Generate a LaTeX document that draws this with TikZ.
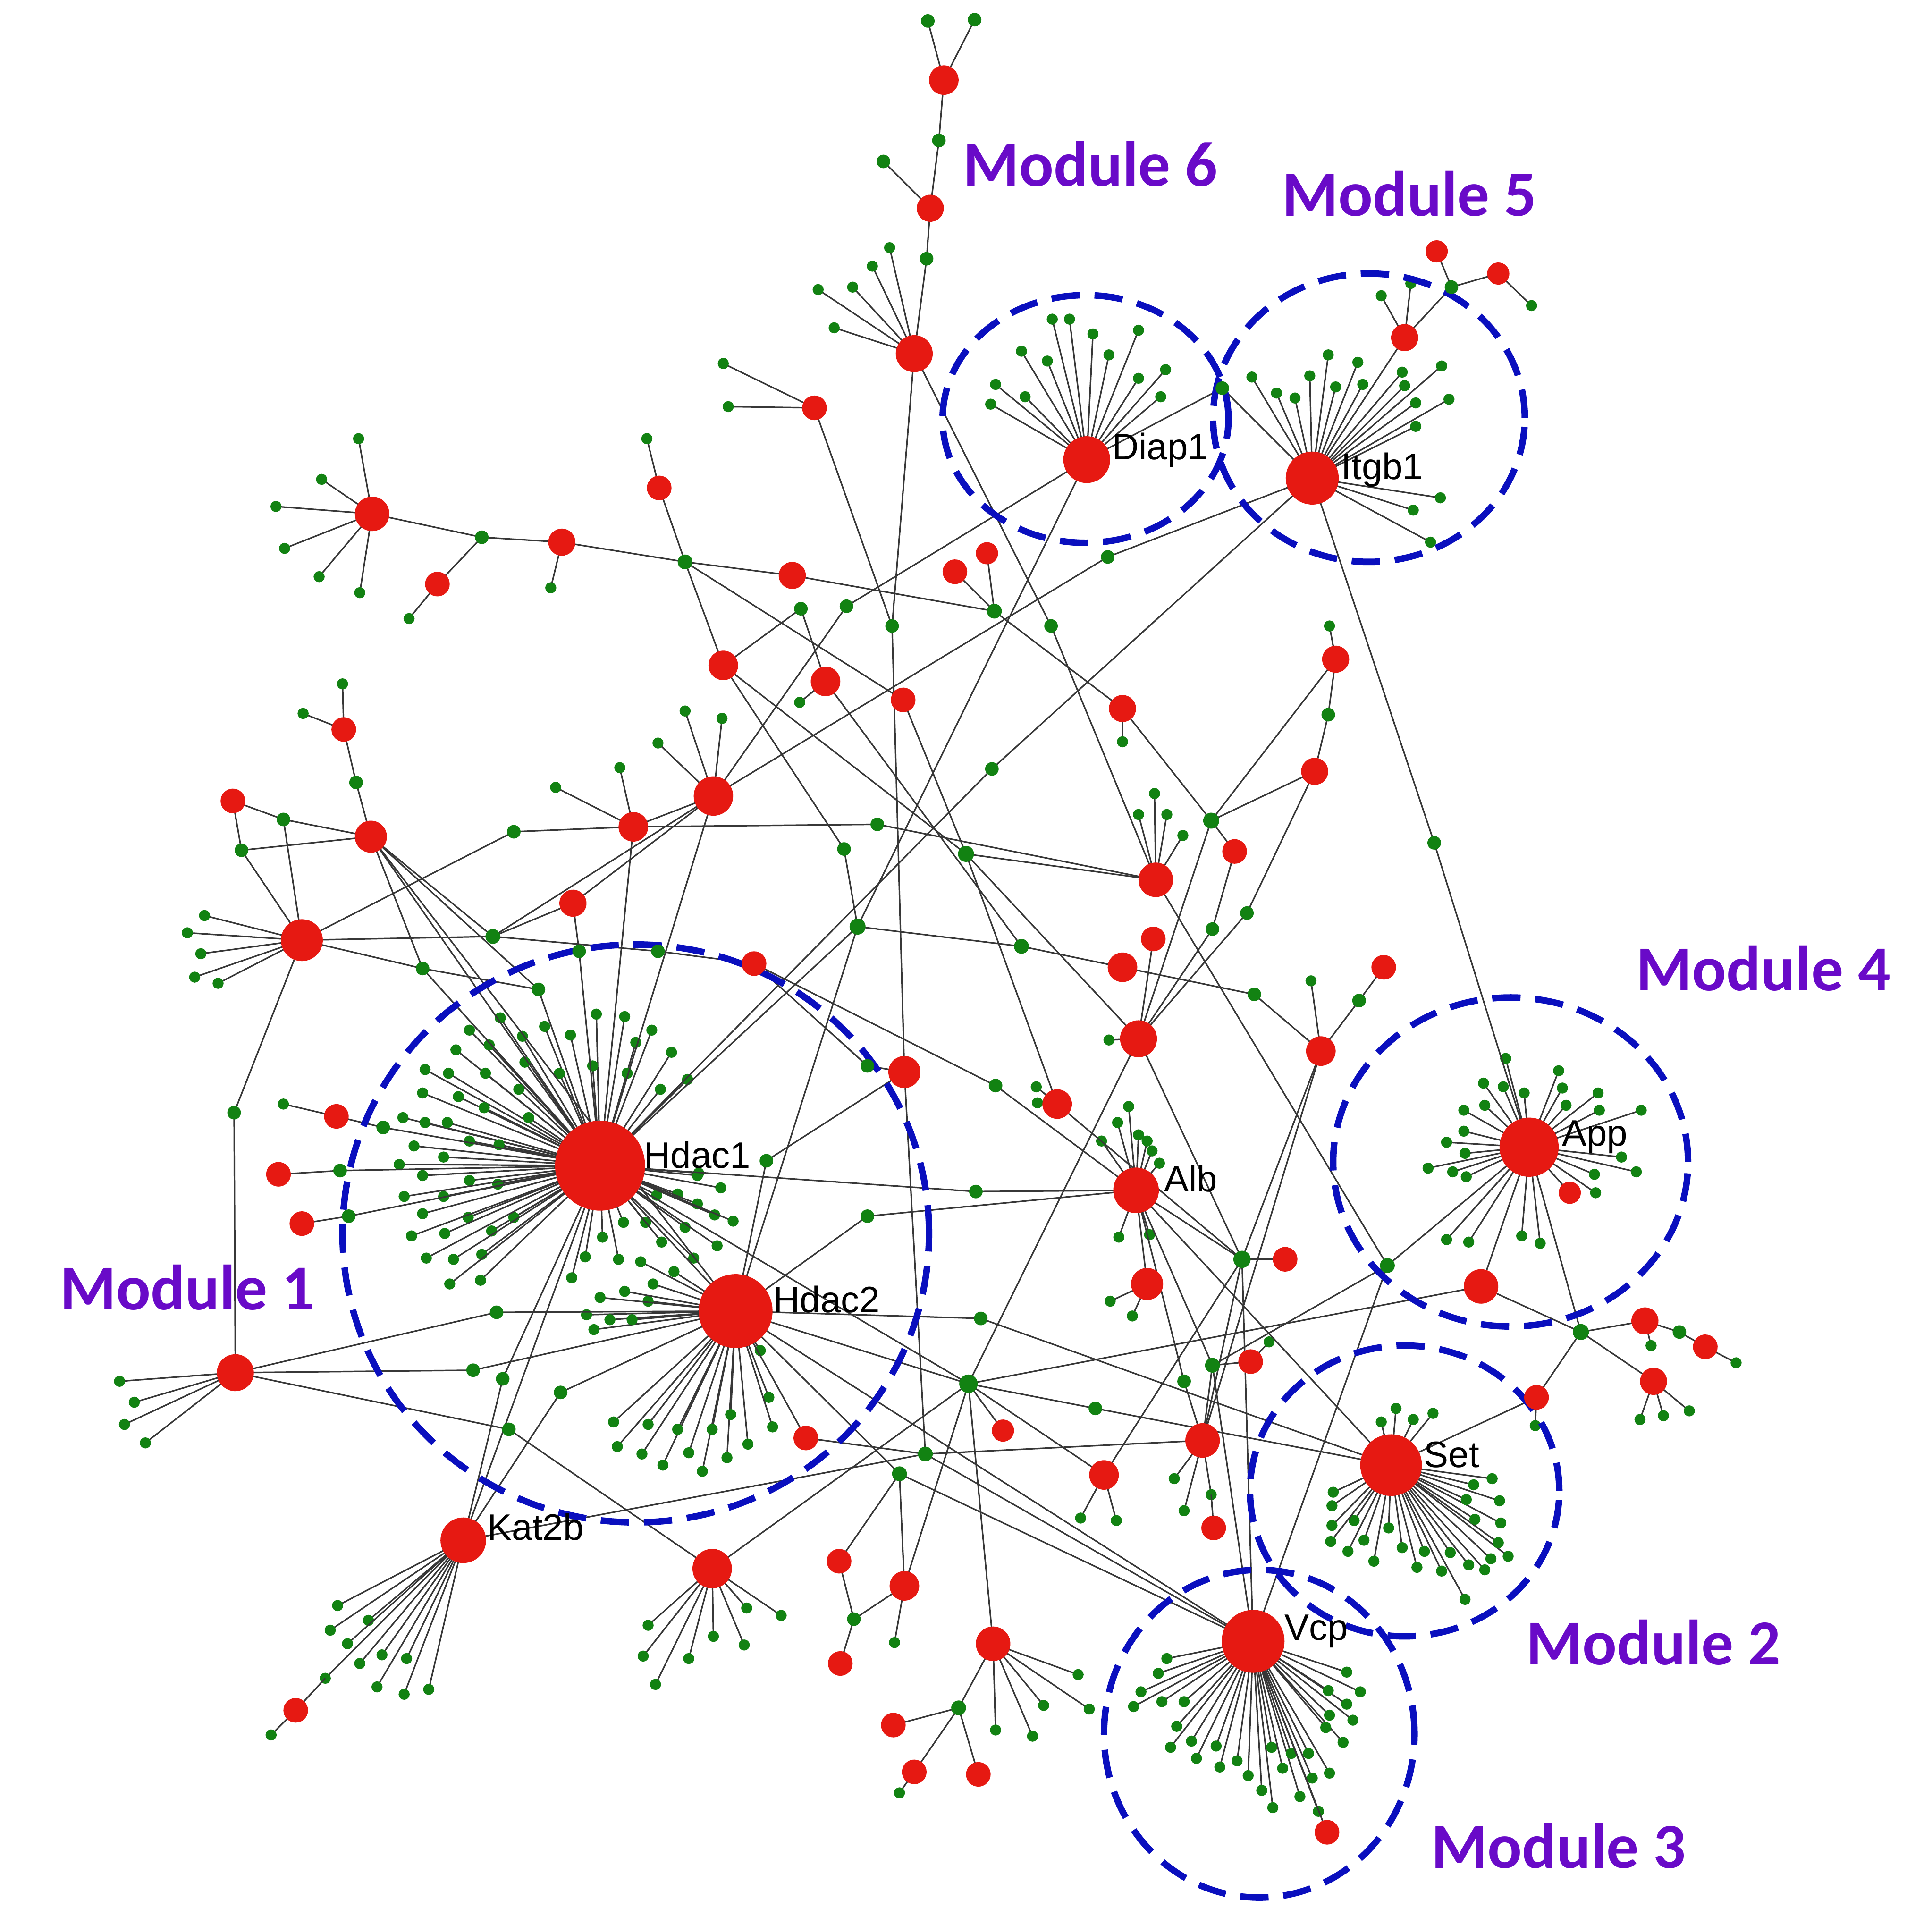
\documentclass[tikz,border=0pt]{standalone}
\usepackage{fontspec}
\newfontfamily\modfont{Carlito}
\newfontfamily\genefont{Liberation Sans}
\definecolor{nodered}{RGB}{230,25,18}
\definecolor{leafgreen}{RGB}{18,130,18}
\definecolor{edgegray}{RGB}{55,55,55}
\definecolor{modblue}{RGB}{10,15,190}
\definecolor{modpurple}{RGB}{105,10,200}

% proteins: name/x/y/diameter(mm)
\def\protlist{hdacA/487/946/7.3, hdacB/597/1064/6.0, katB/376/1250/3.7, diap/882/373/3.8,
	itgb/1065/388/4.3, app/1241/931/4.8, setg/1129/1189/5.0, vcp/1017/1332/5.1, alb/922/966/3.7,
	rA/766/65/2.4, rB/755/169/2.2, rC/742/287/3.0, rD/661/331/2.0, rE/302/417/2.8, rF/456/440/2.2,
	rG/355/474/2.0, rH/535/396/2.0, rI/643/467/2.2, rJ/775/464/2.0, rK/801/449/1.8, rL/587/540/2.4,
	rM/670/553/2.4, rN/733/568/2.0, rO/911/575/2.2, rP/579/646/3.2, rQ/514/671/2.4, rR/1084/535/2.2,
	rS/1067/626/2.2, rT/1002/691/2.0, rU/938/714/2.8, rV/936/762/2.0, rW/911/785/2.4, rX/1123/785/2.0,
	rY/1072/853/2.4, rZ/924/843/3.0, sA/858/896/2.4, sB/734/870/2.6, sC/612/782/2.0, sD/465/733/2.2,
	sE/279/592/2.0, sF/189/650/2.0, sG/301/679/2.6, sH/245/763/3.4, sI/273/906/2.0, sJ/226/953/2.0,
	sK/245/993/2.0, sL/191/1114/3.0, sM/240/1388/2.0, sN/578/1273/3.2, sO/654/1167/2.0, sP/681/1267/2.0,
	sQ/734/1287/2.4, sR/682/1350/2.0, sS/725/1400/2.0, sT/742/1438/2.0, sU/794/1440/2.0, sV/806/1334/2.8,
	sW/814/1161/1.8, sX/896/1197/2.4, sY/976/1169/2.8, sZ/985/1240/2.0, tA/1015/1105/2.0, tB/1043/1022/2.0,
	tC/931/1042/2.6, tD/1202/1044/2.8, tE/1274/968/1.8, tF/1247/1134/2.0, tG/1335/1072/2.2, tH/1384/1093/2.0,
	tI/1342/1121/2.2, tJ/1077/1487/2.0, tK/1166/204/1.8, tL/1216/222/1.8, tM/1140/274/2.2}

% connectors: name/x/y/diameter(mm)
\def\connlist{gT1/753/17/1.1, gT2/791/16/1.1, gT3/762/114/1.1, gT4/717/131/1.1, gT5/752/210/1.1,
	gL1/391/436/1.1, gL2/556/456/1.2, gC1/650/494/1.1, gC2/784/693/1.3, gC3/685/689/1.1, gC4/696/752/1.3,
	gC5/807/496/1.2, gC6/983/666/1.3, gC7/687/492/1.1, gC8/724/508/1.1, gC9/853/508/1.1, gC10/899/452/1.1,
	gC11/805/624/1.1, gC12/712/669/1.1, gC13/829/768/1.2, g992/992/315/1.1, g1178/1178/233/1.1,
	g1164/1164/684/1.1, g1078/1078/580/1.1, g984/984/754/1.1, g1012/1012/741/1.1, g1018/1018/807/1.1,
	g1103/1103/812/1.1, g808/808/881/1.1, g792/792/967/1.1, g704a/704/865/1.1, g704b/704/987/1.1,
	g622/622/942/1.1, gA1/1008/1022/1.4, gA2/1126/1027/1.2, g983/984/1108/1.2, g960/961/1121/1.1,
	g796/796/1070/1.1, gBig/786/1123/1.5, g888/889/1143/1.1, g751/751/1180/1.2, g730/730/1196/1.2,
	g693/693/1314/1.1, g778/778/1386/1.2, g1283/1283/1081/1.3, g1363/1363/1081/1.1, g289/289/635/1.1,
	g230/230/665/1.1, g196/196/690/1.1, g400/400/760/1.2, g534/534/772/1.1, g417/417/675/1.1,
	g343/343/786/1.1, g470/470/772/1.1, g435/437/803/1.1, g190/190/903/1.1, g311/311/915/1.1,
	g276/276/950/1.1, g283/283/987/1.1, g403/403/1065/1.1, g384/384/1112/1.1, g413/413/1160/1.1,
	g455/455/1130/1.1, g408/408/1119/1.1}

\begin{document}
\begin{tikzpicture}[x=0.1mm,y=-0.1mm]
		\tikzset{prot/.style = {circle,fill=nodered,inner sep=0pt,minimum size=#1}}
		\tikzset{leaf/.style = {circle,fill=leafgreen,inner sep=0pt,minimum size=0.9mm}}
		\tikzset{conn/.style = {circle,fill=leafgreen,inner sep=0pt,minimum size=#1}}
		\tikzset{edge/.style = {draw=edgegray,line width=0.35pt}}
		\tikzset{module/.style = {draw=modblue,line width=1.5pt,dash pattern=on 2.3mm off 1.2mm}}
		\tikzset{modlabel/.style = {text=modpurple,inner sep=0pt,font=\modfont\bfseries\fontsize{14.8}{17}\selectfont}}
		\tikzset{genelabel/.style = {anchor=base west,inner sep=0pt,font=\genefont\fontsize{8.5}{10}\selectfont}}
		\useasboundingbox (0,0) rectangle (1568,1562);
		
		% positions
		\foreach \n/\x/\y/\s in \protlist {\coordinate (\n) at (\x,\y);}
		\foreach \n/\x/\y/\s in \connlist {\coordinate (\n) at (\x,\y);}
		
		% fans of leaves
		\foreach \h/\p/\list in {
			hdacA/hA/{406/826,381/836,397/848,424/841,442/833,463/840,484/823,507/825,529/836,516/846,545/854,370/852,426/862,454/871,481/865,509/871,536/884,558/876,345/868,364/871,394/871,421/884,343/887,372/890,393/899,429/907,327/907,345/911,363/911,381/926,405/929,336/930,360/939,324/945,343/954,381/958,404/961,328/971,360/971,380/988,343/985,334/1003,361/1001,399/999,417/988,346/1021,368/1022,391/1018,365/1042,390/1039,506/992,524/992,533/970,550/969,566/977,580/986,595/991,585/964,566/954,537/1008,556/996,563/1021,582/1011,464/1037,475/1020,489/1004,502/1022,567/952},
			hdacB/hB/{476/1067,482/1079,495/1071,513/1071,526/1056,530/1042,520/1024,547/1032,507/1048,487/1053,498/1154,501/1174,521/1180,526/1156,538/1189,550/1160,559/1179,570/1194,578/1160,590/1183,593/1148,607/1172,624/1134,627/1158,617/1096},
			diap/dL/{854/259,868/259,887/271,924/268,829/285,850/293,900/288,946/300,924/307,808/312,832/322,942/322,804/328},
			itgb/iL/{1016/306,1036/319,1051/323,1063/305,1078/288,1084/314,1102/294,1106/312,1138/302,1140/313,1170/297,1149/327,1176/324,1149/346,1169/404,1147/414,1161/440},
			app/aL/{1222/859,1265/869,1204/879,1220/882,1237/887,1268/883,1297/887,1188/901,1205/897,1271/897,1298/901,1332/901,1174/927,1188/918,1189/936,1159/948,1179/951,1190/955,1316/939,1328/951,1294/953,1295/968,1174/1006,1192/1008,1235/1003,1250/1009},
			setg/eL/{1121/1154,1133/1143,1147/1152,1163/1147,1082/1211,1081/1222,1099/1234,1081/1238,1107/1250,1080/1251,1094/1259,1115/1267,1127/1240,1138/1256,1150/1272,1156/1259,1170/1275,1177/1260,1189/1298,1192/1270,1205/1274,1210/1265,1224/1263,1216/1252,1218/1236,1197/1233,1196/1205,1211/1200,1217/1218,1190/1217},
			vcp/vL/{947/1346,940/1358,926/1373,920/1385,943/1381,961/1381,955/1401,967/1413,950/1418,971/1427,987/1417,990/1434,1004/1429,1013/1441,1024/1453,1033/1467,1032/1418,1041/1435,1055/1458,1048/1423,1065/1443,1079/1439,1062/1423,1090/1414,1076/1402,1098/1396,1079/1392,1093/1383,1078/1372,1104/1373,1093/1357,1070/1470},
			alb/bL/{916/898,907/911,894/926,924/921,931/926,935/934,941/944,908/1004,933/1002},
			katB/kL/{274/1303,268/1323,299/1315,282/1334,310/1343,292/1350,330/1346,264/1362,306/1369,328/1375,348/1371},
			sN/nL/{526/1319,522/1344,532/1367,559/1346,579/1328,604/1335,606/1305,634/1311},
			sV/wL/{875/1359,847/1384,884/1387,838/1409,808/1404},
			sL/mL/{97/1121,109/1138,101/1156,118/1171},
			sH/hL/{166/743,152/757,163/774,158/793,177/798},
			rE/eE/{291/356,261/389,224/411,231/445,259/468,292/481},
			rC/cL/{722/201,708/216,692/233,664/235,677/266},
			rU/uL/{937/644,924/661,947/661,960/678},
			rP/pL/{556/577,586/583,534/603},
			tI/jL/{1331/1152,1350/1149,1371/1145},
			sY/yL/{953/1200,961/1226,983/1213},
			rD/dD/{587/295,591/330},
			rQ/qL/{503/623,451/639},
			sA/aA/{841/882,842/895},
			sE/sEl/{278/555,246/579},
			sX/xL/{877/1232,906/1234},
			tC/tCl/{901/1056,919/1068},
			tM/tMl/{1121/240,1145/230},
			rF/fL/{447/477}, rG/gLf/{332/502}, rH/hHl/{525/356}, rM/mM/{649/570},
			rO/oL/{911/602}, rR/rRl/{1079/508}, rY/yY/{1064/796}, rZ/zL/{900/844},
			sI/iI/{230/896}, sQ/qQ/{726/1333}, sT/tT/{730/1455}, tA/aAl/{1030/1089},
			tF/fF/{1246/1157}, tG/gG/{1340/1092}, tH/hH/{1409/1106}, tL/lL/{1243/248},
			sM/sMl/{220/1408}}
		{
			\foreach \x/\y [count=\i] in \list {
				\coordinate (\p-\i) at (\x,\y);
				\draw[edge] (\h) -- (\p-\i);
				\node[leaf] (\p-\i-dot) at (\p-\i) {};
			}
		}
		
		% edges
		\foreach \a/\b in {rA/gT1,rA/gT2,rA/gT3,gT3/rB,gT4/rB,rB/gT5,gT5/rC,rC/gC8,rC/gC9,rD/gC8,gC8/sB,gC9/rU,
			rE/gL1,gL1/rF,gL1/rG,rF/gL2,rH/gL2,gL2/rI,rI/gC5,gL2/rL,gL2/rN,rJ/gC5,rK/gC5,gC5/rO,rO/gC6,
			rL/gC1,gC1/rM,rL/gC2,rL/gC3,rN/gC2,diap/gC7,gC7/rP,diap/gC4,diap/g992,g992/itgb,
			itgb/gC10,gC10/rP,itgb/gC11,gC11/hdacA,itgb/g1164,g1164/app,itgb/tM,tM/g1178,g1178/tK,g1178/tL,
			gC2/rU,gC2/rZ,gC2/sA,gC3/gC4,gC4/gC13,gC13/rW,gC4/hdacB,gC4/hdacA,rM/gC13,
			rQ/gC12,gC12/rU,rQ/rP,rQ/hdacA,sH/g417,g417/rQ,rP/hdacA,rP/g400,
			rR/g1078,g1078/rS,rR/gC6,rS/gC6,gC6/rT,gC6/rZ,rT/g984,g984/rZ,rS/g1012,g1012/rZ,rV/rZ,
			rU/gA2,rW/g1018,g1018/rY,rX/g1103,g1103/rY,rY/gA1,rY/sY,sA/gA1,
			sC/g808,g808/alb,hdacA/g792,g792/alb,hdacB/g704b,g704b/alb,
			alb/tC,alb/gA1,alb/setg,alb/g983,alb/g960,
			sC/g704a,g704a/sB,hdacB/g622,g622/sB,sB/g751,
			g751/katB,g751/sO,g751/sY,g751/vcp,
			g730/hdacB,g730/vcp,g730/sP,g730/sQ,
			gBig/hdacB,gBig/hdacA,gBig/g888,g888/setg,gBig/tD,gBig/rZ,gBig/sV,gBig/sW,gBig/sX,gBig/sN,gBig/sQ,
			hdacB/g796,g796/setg,sX/gA1,gA1/vcp,gA1/sY,rZ/gA1,gA1/tB,
			g983/tA,g983/gA2,g983/vcp,g983/sY,g960/sY,gA2/app,gA2/vcp,
			app/tD,tD/g1283,app/g1283,g1283/tG,tG/g1363,g1363/tH,g1283/tI,g1283/tF,tF/setg,app/tE,
			vcp/hdacB,vcp/tJ,
			sL/g190,g190/sH,sL/g403,g403/hdacB,sL/g384,g384/hdacB,sL/g413,g413/sN,
			katB/hdacA,katB/g455,g455/hdacB,katB/g408,g408/hdacA,kL-8/sM,
			sO/hdacB,sP/g693,g693/sR,g693/sQ,
			sV/g778,g778/sS,g778/sT,g778/sU,
			sE/g289,g289/sG,sF/g230,g230/sG,sF/g196,g196/sG,g230/sH,g196/sH,
			sH/g400,g400/g534,g534/sC,sH/g343,sG/g343,g343/hdacA,g343/g435,
			sG/g400,sG/hdacA,sG/hdacB,sG/g435,g435/hdacA,
			sD/g470,g470/hdacA,sD/g400,sD/rP,
			hdacA/g311,g311/sI,hdacA/g276,g276/sJ,hdacA/g283,g283/sK,
			hdacA/hdacB,yL-3/sZ}
			\draw[edge] (\a) -- (\b);
		
		% modules
		\draw[module] (516,1001) ellipse [x radius=23.8mm, y radius=23.45mm];
		\draw[module] (881,340) ellipse [x radius=11.6mm, y radius=10.05mm];
		\draw[module] (1111,339) ellipse [x radius=12.65mm, y radius=11.7mm];
		\draw[module] (1226,943) ellipse [x radius=14.4mm, y radius=13.35mm];
		\draw[module] (1140,1210) ellipse [x radius=12.55mm, y radius=11.8mm];
		\draw[module] (1022,1407) ellipse [x radius=12.6mm, y radius=13.3mm];
		
		% vertices
		\foreach \n/\x/\y/\s in \connlist {\node[conn=\s mm] (\n-dot) at (\n) {};}
		\foreach \n/\x/\y/\s in \protlist {\node[prot=\s mm] (\n-dot) at (\n) {};}
		
		% labels
		\node[genelabel] (lhdacA) at (522,948) {Hdac1};
		\node[genelabel] (lhdacB) at (627,1065) {Hdac2};
		\node[genelabel] (lkatB) at (395,1250) {Kat2b};
		\node[genelabel] (ldiap) at (902,373) {Diap1};
		\node[genelabel] (litgb) at (1088,389) {Itgb1};
		\node[genelabel] (lapp) at (1267,930) {App};
		\node[genelabel] (lalb) at (944,967) {Alb};
		\node[genelabel] (lsetg) at (1155,1191) {Set};
		\node[genelabel] (lvcp) at (1042,1331) {Vcp};
		
		\node[modlabel] (mod1) at (152,1045) {Module 1};
		\node[modlabel] (mod2) at (1342,1333) {Module 2};
		\node[modlabel] (mod3) at (1265,1498) {Module 3};
		\node[modlabel] (mod4) at (1431,786) {Module 4};
		\node[modlabel] (mod5) at (1144,157) {Module 5};
		\node[modlabel] (mod6) at (885,133) {Module 6};
		
\end{tikzpicture}
\end{document}
